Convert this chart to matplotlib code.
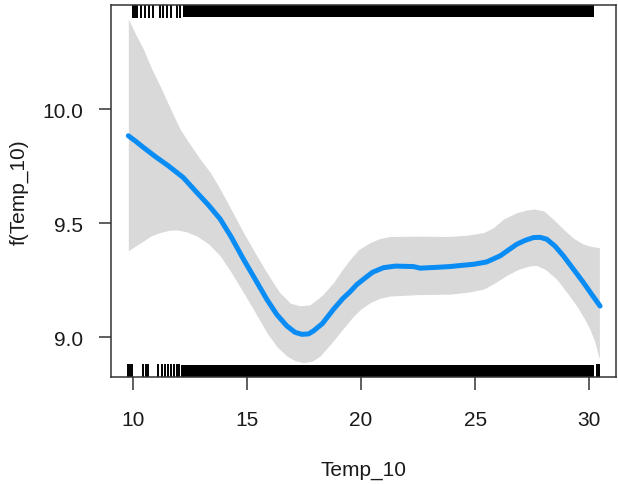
""" GAM smooth of Temp_10 with confidence band and rugs """

import numpy as np
import matplotlib
matplotlib.use('Agg')
import matplotlib.pyplot as plt

# smooth estimate
temp = [9.79, 10.1, 10.45, 11.0, 11.55, 12.2, 12.79, 13.3, 13.82, 14.3,
        14.84, 15.35, 15.86, 16.3, 16.74, 17.1, 17.40, 17.7, 17.91, 18.3,
        18.79, 19.2, 19.52, 19.8, 20.10, 20.5, 20.98, 21.5, 22.29, 22.59,
        23.2, 23.90, 24.4, 24.93, 25.5, 26.10, 26.5, 26.83, 27.2, 27.56,
        27.85, 28.14, 28.5, 28.87, 29.3, 29.75, 30.1, 30.48]
fit = [9.883, 9.860, 9.832, 9.790, 9.751, 9.700, 9.635, 9.580, 9.518, 9.440,
       9.342, 9.255, 9.167, 9.100, 9.050, 9.022, 9.013, 9.015, 9.028, 9.060,
       9.123, 9.170, 9.200, 9.230, 9.254, 9.285, 9.305, 9.312, 9.310, 9.303,
       9.306, 9.310, 9.315, 9.320, 9.330, 9.357, 9.385, 9.408, 9.425, 9.437,
       9.438, 9.430, 9.400, 9.357, 9.300, 9.240, 9.190, 9.137]

# confidence band edges
hi_x = [9.79, 10.1, 10.45, 10.8, 11.18, 11.6, 12.06, 12.5, 12.94, 13.4,
        13.82, 14.3, 14.84, 15.35, 15.86, 16.4, 16.89, 17.3, 17.76, 18.3,
        18.79, 19.2, 19.52, 19.9, 20.40, 20.8, 21.27, 22.5, 23.90, 24.7,
        25.37, 25.8, 26.24, 26.8, 27.26, 27.6, 28.00, 28.4, 28.87, 29.3,
        29.75, 30.1, 30.45]
band_hi = [10.395, 10.330, 10.263, 10.180, 10.102, 10.010, 9.912, 9.845, 9.781, 9.720,
           9.649, 9.560, 9.459, 9.370, 9.284, 9.200, 9.150, 9.138, 9.142, 9.185,
           9.240, 9.300, 9.342, 9.385, 9.415, 9.432, 9.442, 9.443, 9.442, 9.448,
           9.459, 9.480, 9.518, 9.545, 9.558, 9.562, 9.554, 9.520, 9.474, 9.435,
           9.408, 9.398, 9.393]
lo_x = [9.79, 10.1, 10.45, 10.8, 11.18, 11.55, 11.92, 12.35, 12.79, 13.3,
        13.82, 14.3, 14.84, 15.35, 15.86, 16.3, 16.74, 17.1, 17.47, 17.85,
        18.2, 18.7, 19.23, 19.6, 20.0, 20.40, 20.8, 21.27, 22.5, 23.90,
        24.7, 25.37, 25.9, 26.39, 26.9, 27.4, 27.70, 28.1, 28.58, 29.0,
        29.46, 29.8, 30.04, 30.25, 30.45]
band_lo = [9.379, 9.400, 9.422, 9.445, 9.459, 9.468, 9.471, 9.462, 9.444, 9.410,
           9.357, 9.285, 9.196, 9.110, 9.021, 8.960, 8.918, 8.898, 8.889, 8.895,
           8.918, 8.975, 9.040, 9.085, 9.125, 9.152, 9.170, 9.181, 9.187, 9.189,
           9.198, 9.211, 9.240, 9.272, 9.298, 9.313, 9.315, 9.296, 9.254, 9.200,
           9.137, 9.080, 9.035, 8.980, 8.905]

# rug marks: single ticks plus the span where they merge into a block
rug_bottom = [9.79, 9.87, 9.97, 10.45, 10.56, 10.67, 11.11, 11.26, 11.40, 11.55,
              11.65, 11.80, 11.92, 12.03, 30.34, 30.45]
rug_bottom_block = (12.09, 30.22)
rug_top = [10.00, 10.08, 10.17, 10.34, 10.53, 10.71, 10.89, 11.18, 11.32, 11.49,
           11.67, 11.93, 12.06]
rug_top_block = (12.18, 30.22)

x_ticks = [10, 15, 20, 25, 30]
y_ticks = [9.0, 9.5, 10.0]


def main():
    plt.rcParams['font.family'] = ['Liberation Sans', 'DejaVu Sans']
    text_col = '#1a1a1a'

    fig = plt.figure(figsize=(6.18, 4.85), dpi=100)
    ax = fig.add_axes([0.1796, 0.2206, 0.8172, 0.767])

    # band: union of both edge grids
    bx = np.union1d(hi_x, lo_x)
    ax.fill_between(bx, np.interp(bx, lo_x, band_lo), np.interp(bx, hi_x, band_hi),
                    color='#d9d9d9', lw=0)
    ax.plot(temp, fit, color='#0a8cf5', lw=3.6, solid_capstyle='round',
            solid_joinstyle='round')

    # rugs, in axes fraction vertically
    tick = 0.032
    for v in rug_bottom:
        ax.axvline(v, ymin=0, ymax=tick, color='black', lw=1.4)
    ax.axvspan(rug_bottom_block[0], rug_bottom_block[1], ymin=0, ymax=tick,
               color='black', lw=0)
    for v in rug_top:
        ax.axvline(v, ymin=1 - tick, ymax=1, color='black', lw=1.4)
    ax.axvspan(rug_top_block[0], rug_top_block[1], ymin=1 - tick, ymax=1,
               color='black', lw=0)

    ax.set_xlim(9.03, 31.18)
    ax.set_ylim(8.826, 10.456)
    ax.set_xticks(x_ticks)
    ax.set_xticklabels([str(t) for t in x_ticks])
    ax.set_yticks(y_ticks)
    ax.set_yticklabels(['%.1f' % t for t in y_ticks])

    for s in ax.spines.values():
        s.set_color('#333333')
        s.set_linewidth(1.1)
    ax.tick_params(axis='x', length=9, width=1.1, color='#333333',
                   pad=15, labelsize=15, labelcolor=text_col)
    ax.tick_params(axis='y', length=9, width=1.1, color='#333333',
                   pad=11, labelsize=15, labelcolor=text_col)

    ax.set_xlabel('Temp_10', fontsize=15, color=text_col, labelpad=22)
    ax.set_ylabel('f(Temp_10)', fontsize=15, color=text_col, labelpad=10)

    plt.savefig('out.png', dpi=100)


if __name__ == '__main__':
    main()
